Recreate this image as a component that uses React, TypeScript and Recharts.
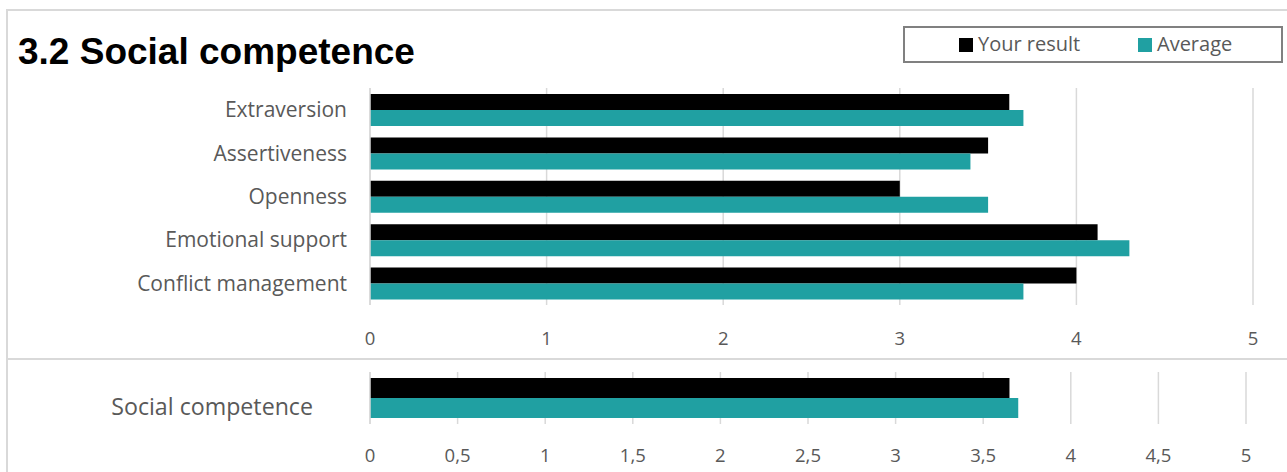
import React from 'react'
import { BarChart, Bar, XAxis, YAxis, CartesianGrid, Legend } from 'recharts'

const categories = ['Extraversion', 'Assertiveness', 'Openness', 'Emotional support', 'Conflict management']
const yourResult = [3.62, 3.5, 3.0, 4.12, 4.0]
const average = [3.7, 3.4, 3.5, 4.3, 3.7]

const totalCategory = ['Social competence']
const totalYour = [3.65]
const totalAverage = [3.7]

const topTicks = [0, 1, 2, 3, 4, 5]
const bottomTicks = [0, 0.5, 1, 1.5, 2, 2.5, 3, 3.5, 4, 4.5, 5]

const BLACK = '#000000'
const TEAL = '#20a0a2'
const GRID = '#d9d9d9'
const TEXT = '#595959'
const FONT = '"Open Sans", Lato, sans-serif'

const topData = categories.map((name, i) => ({ name, you: yourResult[i], avg: average[i] }))
const bottomData = totalCategory.map((name, i) => ({ name, you: totalYour[i], avg: totalAverage[i] }))

function LegendBox() {
  return (
    <div
      style={{
        width: 376, height: 33, border: '2px solid #808080', boxSizing: 'content-box',
        display: 'flex', alignItems: 'center', fontFamily: FONT, fontSize: 20, color: TEXT,
        lineHeight: '33px',
      }}
    >
      <span style={{ width: 14, height: 14, background: BLACK, marginLeft: 54, marginRight: 5 }} />
      <span style={{ width: 160, marginTop: -3 }}>Your result</span>
      <span style={{ width: 14, height: 14, background: TEAL, marginRight: 5 }} />
      <span style={{ marginTop: -3 }}>Average</span>
    </div>
  )
}

// label of the total row sits a bit below the bar centre, as in the source sheet
function TotalTick(props: any) {
  const { x, y, payload } = props
  return (
    <text x={x} y={y + 9} dy="0.355em" textAnchor="end" fill={TEXT} fontSize={23.2} fontFamily={FONT}>
      {payload.value}
    </text>
  )
}

export default function App() {
  return (
    <div style={{ position: 'absolute', left: 0, top: 0, width: 1287, height: 472, background: '#fff', overflow: 'hidden' }}>
      {/* frame lines */}
      <div style={{ position: 'absolute', left: 6, top: 9, width: 1281, height: 2, background: GRID }} />
      <div style={{ position: 'absolute', left: 6, top: 9, width: 2, height: 463, background: GRID }} />
      <div style={{ position: 'absolute', left: 6, top: 358, width: 1281, height: 2, background: GRID }} />

      <svg style={{ position: 'absolute', left: 0, top: 0 }} width={600} height={80}>
        <text x={18} y={64} fontFamily='"Liberation Sans", Arial, sans-serif' fontWeight="bold" fontSize={37} fill="#000">
          3.2 Social competence
        </text>
      </svg>

      <div style={{ position: 'absolute', left: 0, top: 0 }}>
        <BarChart
          width={1287}
          height={360}
          data={topData}
          layout="vertical"
          margin={{ top: 88, right: 34, bottom: 0, left: 0 }}
          barCategoryGap="13%"
          barGap={0}
        >
          <CartesianGrid horizontal={false} stroke={GRID} strokeWidth={1.5} />
          <XAxis
            type="number"
            domain={[0, 5]}
            ticks={topTicks}
            axisLine={false}
            tickLine={false}
            tickSize={0}
            tickMargin={27}
            height={55}
            tick={{ fill: TEXT, fontSize: 18.5, fontFamily: FONT }}
          />
          <YAxis
            type="category"
            dataKey="name"
            width={370}
            axisLine={{ stroke: GRID, strokeWidth: 1.5 }}
            tickLine={false}
            tickSize={0}
            tickMargin={23}
            tick={{ fill: TEXT, fontSize: 21, fontFamily: FONT }}
          />
          <Legend
            layout="horizontal"
            verticalAlign="middle"
            align="center"
            content={() => <LegendBox />}
            wrapperStyle={{ position: 'absolute', left: 903, top: 26, width: 380 }}
          />
          <Bar dataKey="you" name="Your result" fill={BLACK} barSize={16} isAnimationActive={false} />
          <Bar dataKey="avg" name="Average" fill={TEAL} barSize={16} isAnimationActive={false} />
        </BarChart>
      </div>

      <div style={{ position: 'absolute', left: 0, top: 360 }}>
        <BarChart
          width={1287}
          height={112}
          data={bottomData}
          layout="vertical"
          margin={{ top: 12, right: 41, bottom: 0, left: 0 }}
          barGap={0}
        >
          <CartesianGrid horizontal={false} stroke={GRID} strokeWidth={1.5} />
          <XAxis
            type="number"
            domain={[0, 5]}
            ticks={bottomTicks}
            axisLine={false}
            tickLine={false}
            tickSize={0}
            tickMargin={25}
            height={48}
            tickFormatter={(v: number) => String(v).replace('.', ',')}
            tick={{ fill: TEXT, fontSize: 18.5, fontFamily: FONT }}
          />
          <YAxis
            type="category"
            dataKey="name"
            width={370}
            axisLine={{ stroke: GRID, strokeWidth: 1.5 }}
            tickLine={false}
            tickSize={0}
            tickMargin={57}
            tick={<TotalTick />}
          />
          <Bar dataKey="you" name="Your result" fill={BLACK} barSize={20} isAnimationActive={false} />
          <Bar dataKey="avg" name="Average" fill={TEAL} barSize={20} isAnimationActive={false} />
        </BarChart>
      </div>
    </div>
  )
}
